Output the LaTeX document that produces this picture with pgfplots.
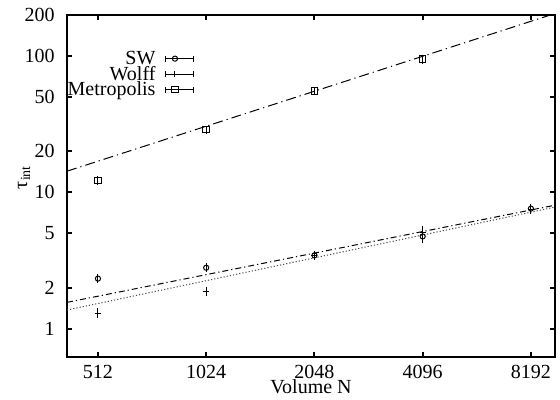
\documentclass[border=0pt]{standalone}
\usepackage{fontspec}
\setmainfont{Liberation Serif}
\usepackage{pgfplots}
\pgfplotsset{compat=1.18}

% legend sample in gnuplot style: bar with caps, marker near the left end
\pgfplotsset{
  errleg/.style={legend image code/.code={
    \draw[black, line width=0.5bp, solid] (0bp,0bp) -- (14bp,0bp)
      (0bp,-1.5bp) -- (0bp,1.5bp) (14bp,-1.5bp) -- (14bp,1.5bp);
    \draw[##1, only marks] plot coordinates {(4.5bp,0bp)};
  }},
}

\begin{document}
\fontsize{10bp}{12bp}\selectfont
\begin{tikzpicture}
\useasboundingbox (0,0) rectangle (280bp,200bp);
\begin{axis}[
  at={(33.5bp,21.5bp)}, anchor=south west,
  scale only axis, width=244bp, height=171bp,
  xmode=log, ymode=log, log basis x=2,
  xmin=420, xmax=9560, ymin=0.62, ymax=200,
  xtick={512,1024,2048,4096,8192},
  xticklabels={512,1024,2048,4096,8192},
  ytick={1,2,5,10,20,50,100,200},
  yticklabels={1,2,5,10,20,50,100,200},
  tick align=inside, major tick length=2.5bp, minor tick length=0pt,
  tick style={line width=1bp, black},
  axis line style={line width=1bp},
  xticklabel style={inner sep=0pt, yshift=-4bp, font=\fontsize{10bp}{12bp}\selectfont},
  yticklabel style={inner sep=0pt, xshift=-6bp, font=\fontsize{10bp}{12bp}\selectfont},
  xlabel={Volume N},
  xlabel style={at={(axis description cs:0.5,0)}, anchor=base, yshift=-18bp, inner sep=0pt,
    font=\fontsize{10bp}{12bp}\selectfont},
  ylabel={τ\textsubscript{int}},
  ylabel style={at={(axis description cs:-0.088,0.526)}, anchor=center, inner sep=0pt,
    font=\fontsize{10bp}{12bp}\selectfont},
  legend plot pos=right,
  legend cell align=right,
  legend style={at={(axis description cs:0.262,0.763)}, anchor=south east,
    draw=none, fill=none, inner sep=0pt, row sep=1.75bp, column sep=5bp,
    nodes={inner sep=0pt, text height=6bp, text depth=0pt,
      font=\fontsize{10bp}{12bp}\selectfont}},
  error bars/error bar style={line width=0.5bp, solid},
  error bars/error mark options={mark size=1.3bp, line width=0.5bp, solid},
]

% fitted power laws
\addplot[forget plot, black, line width=0.5bp,
  dash pattern=on 5bp off 2bp on 0.6bp off 2bp] coordinates {(420,14.3) (9560,205)};
\addplot[forget plot, black, line width=0.5bp,
  dash pattern=on 3bp off 1.5bp on 0.6bp off 1.5bp] coordinates {(420,1.56) (9560,8.05)};
\addplot[forget plot, black!70, line width=0.5bp,
  dash pattern=on 0.6bp off 1bp] coordinates {(420,1.37) (9560,7.8)};

\addplot[black, only marks, mark=o, mark size=1.3bp, line width=0.5bp, errleg,
  error bars/.cd, y dir=both, y explicit]
  table[x index=0, y index=1, y error index=2] {
512  2.33 0.07
1024 2.80 0.08
2048 3.45 0.10
4096 4.75 0.28
8192 7.60 0.25
};
\addlegendentry{SW}

\addplot[black, only marks, mark=+, mark size=1.5bp, line width=0.5bp, errleg,
  error bars/.cd, y dir=both, y explicit]
  table[x index=0, y index=1, y error index=2] {
512  1.30 0.05
1024 1.88 0.07
2048 3.45 0.10
4096 5.10 0.35
8192 7.55 0.30
};
\addlegendentry{Wolff}

\addplot[black, only marks, mark=square, mark size=1.6bp, line width=0.5bp, errleg,
  error bars/.cd, y dir=both, y explicit]
  table[x index=0, y index=1, y error index=2] {
512  12.2 0.4
1024 28.8 0.8
2048 55.5 1.5
4096 95.0 3.0
};
\addlegendentry{Metropolis}

\end{axis}
\end{tikzpicture}
\end{document}
